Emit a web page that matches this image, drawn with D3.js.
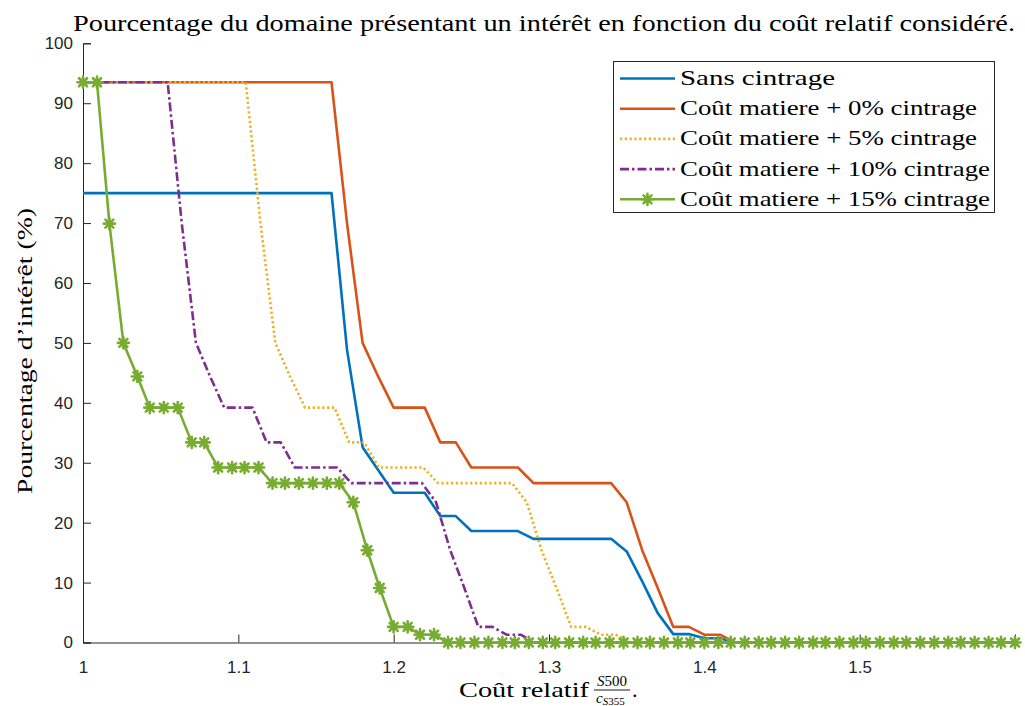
<!DOCTYPE html>
<html>
<head>
<meta charset="utf-8">
<script src="https://cdn.jsdelivr.net/npm/d3@7"></script>
<style>
  body { margin: 0; background: #fff; }
  svg { display: block; }
  .tick text { font-family: "Liberation Sans", Arial, sans-serif; font-size: 17px; fill: #262626; }
  .serif { font-family: "Liberation Serif", "DejaVu Serif", serif; fill: #000; }
</style>
</head>
<body>
<div id="chart"></div>
<script>
// --- data ---
const title = "Pourcentage du domaine présentant un intérêt en fonction du coût relatif considéré.";
const seriesNames = ["Sans cintrage", "Coût matiere + 0% cintrage", "Coût matiere + 5% cintrage",
                     "Coût matiere + 10% cintrage", "Coût matiere + 15% cintrage"];
const xTicks = [1, 1.1, 1.2, 1.3, 1.4, 1.5];
const yTicks = [0, 10, 20, 30, 40, 50, 60, 70, 80, 90, 100];

// breakpoints of each curve (straight segments in between)
const sansX = [1.00, 1.16, 1.17, 1.18, 1.19, 1.20, 1.22, 1.23, 1.24, 1.25, 1.28, 1.29, 1.34, 1.35, 1.36, 1.37, 1.38, 1.39, 1.40, 1.41, 1.42, 1.60];
const sansY = [75, 75, 48.8, 32.6, 28.8, 25, 25, 21.1, 21.1, 18.6, 18.6, 17.3, 17.3, 15.2, 10.2, 4.9, 1.4, 1.4, 0.7, 0.7, 0, 0];

const c0X = [1.00, 1.16, 1.17, 1.18, 1.19, 1.20, 1.22, 1.23, 1.24, 1.25, 1.28, 1.29, 1.34, 1.35, 1.36, 1.37, 1.38, 1.39, 1.40, 1.41, 1.42, 1.60];
const c5X = [1.00, 1.1048, 1.1143, 1.1238, 1.1333, 1.1429, 1.1619, 1.1714, 1.1810, 1.1905, 1.2190, 1.2286, 1.2762, 1.2857, 1.2952, 1.3048, 1.3143, 1.3238, 1.3333, 1.3429, 1.3524, 1.60];
const c10X = [1.00, 1.0545, 1.0636, 1.0727, 1.0818, 1.0909, 1.1091, 1.1182, 1.1273, 1.1364, 1.1636, 1.1727, 1.2182, 1.2273, 1.2364, 1.2455, 1.2545, 1.2636, 1.2727, 1.2818, 1.2909, 1.60];
// the 0/5/10% curves share the same levels, only shifted in x
const cintrY = [93.5, 93.5, 69.9, 50, 44.4, 39.2, 39.2, 33.4, 33.4, 29.2, 29.2, 26.6, 26.6, 23.4, 15.4, 9.1, 2.6, 2.6, 1.3, 1.3, 0, 0];

// 15% curve: every sample is drawn with a marker
const c15X = [1.000, 1.009, 1.017, 1.026, 1.035, 1.043, 1.052, 1.061, 1.070, 1.078,
              1.087, 1.096, 1.104, 1.113, 1.122, 1.130, 1.139, 1.148, 1.157, 1.165,
              1.174, 1.183, 1.191, 1.200, 1.209, 1.217, 1.226, 1.235, 1.243, 1.252,
              1.261, 1.270, 1.278, 1.287, 1.296, 1.304, 1.313, 1.322, 1.330, 1.339,
              1.348, 1.357, 1.365, 1.374, 1.383, 1.391, 1.400, 1.409, 1.417, 1.426,
              1.435, 1.443, 1.452, 1.461, 1.470, 1.478, 1.487, 1.496, 1.504, 1.513,
              1.522, 1.530, 1.539, 1.548, 1.557, 1.565, 1.574, 1.583, 1.591, 1.600];
const c15Y = [93.5, 93.5, 69.9, 50, 44.4, 39.2, 39.2, 39.2, 33.4, 33.4,
              29.2, 29.2, 29.2, 29.2, 26.6, 26.6, 26.6, 26.6, 26.6, 26.6,
              23.4, 15.4, 9.1, 2.6, 2.6, 1.3, 1.3, 0, 0, 0,
              0, 0, 0, 0, 0, 0, 0, 0, 0, 0,
              0, 0, 0, 0, 0, 0, 0, 0, 0, 0,
              0, 0, 0, 0, 0, 0, 0, 0, 0, 0,
              0, 0, 0, 0, 0, 0, 0, 0, 0, 0];

const colors = ["#0072BD", "#D95319", "#EDB120", "#7E2F8E", "#77AC30"];
const dashes = [null, null, "2.2,2.6", "9,3,2.5,3", null];

// --- layout ---
const width = 1025, height = 706;
const margin = {top: 43.3, right: 10, bottom: 63.5, left: 83};

const svg = d3.select("#chart").append("svg")
    .attr("width", width)
    .attr("height", height);

const x = d3.scaleLinear([1, 1.6], [margin.left, width - margin.right]);
const y = d3.scaleLinear([0, 100], [height - margin.bottom, margin.top]);

// axes, ticks inward like matlab
const axX = svg.append("g")
    .attr("transform", `translate(0,${height - margin.bottom})`)
    .call(d3.axisBottom(x).tickValues(xTicks).tickSize(-8).tickPadding(14).tickFormat(d3.format("~g")));
const axY = svg.append("g")
    .attr("transform", `translate(${margin.left},0)`)
    .call(d3.axisLeft(y).tickValues(yTicks).tickSize(-8).tickPadding(10));
[axX, axY].forEach(g => {
  g.select(".domain").attr("stroke", "#262626").attr("stroke-width", 1);
  g.selectAll(".tick line").attr("stroke", "#262626");
});
axX.selectAll(".tick text").attr("dy", "0.95em");
axY.selectAll(".tick text").attr("x", -10);

// curves
const curves = [
  {xs: sansX, ys: sansY},
  {xs: c0X, ys: cintrY},
  {xs: c5X, ys: cintrY},
  {xs: c10X, ys: cintrY},
  {xs: c15X, ys: c15Y}
];
const line = d3.line().x(d => x(d[0])).y(d => y(d[1]));
// matlab '*' marker, drawn thick so it looks like a little cog
const marker = "M-5.6,0L5.6,0M0,-5.6L0,5.6M-4,-4L4,4M-4,4L4,-4";

curves.forEach((c, i) => {
  const pts = d3.zip(c.xs, c.ys);
  svg.append("path")
      .datum(pts)
      .attr("fill", "none")
      .attr("stroke", colors[i])
      .attr("stroke-width", 2.6)
      .attr("stroke-linejoin", "round")
      .attr("stroke-dasharray", dashes[i])
      .attr("d", line);
  if (i === 4) {
    svg.append("g").selectAll("path")
      .data(pts)
      .join("path")
        .attr("transform", d => `translate(${x(d[0])},${y(d[1])})`)
        .attr("d", marker)
        .attr("stroke", colors[i])
        .attr("stroke-width", 2.6)
        .attr("stroke-linecap", "round")
        .attr("fill", "none");
  }
});

// title
svg.append("text").attr("class", "serif")
    .attr("x", 544).attr("y", 30.5)
    .attr("text-anchor", "middle")
    .attr("font-size", 24)
    .attr("textLength", 942).attr("lengthAdjust", "spacingAndGlyphs")
    .text(title);

// y label
svg.append("text").attr("class", "serif")
    .attr("transform", "translate(32,351) rotate(-90)")
    .attr("text-anchor", "middle")
    .attr("font-size", 22)
    .attr("textLength", 286).attr("lengthAdjust", "spacingAndGlyphs")
    .text("Pourcentage d’intérêt (%)");

// x label with the little fraction
const xl = svg.append("g").attr("class", "serif");
xl.append("text").attr("x", 459).attr("y", 696.5).attr("font-size", 22)
    .attr("textLength", 130).attr("lengthAdjust", "spacingAndGlyphs")
    .text("Coût relatif");
const num = xl.append("text").attr("x", 612).attr("y", 685.5).attr("font-size", 15).attr("text-anchor", "middle");
num.append("tspan").attr("font-style", "italic").text("S");
num.append("tspan").text("500");
xl.append("line").attr("x1", 594).attr("x2", 630).attr("y1", 690).attr("y2", 690)
    .attr("stroke", "#000").attr("stroke-width", 0.9);
const den = xl.append("text").attr("x", 596).attr("y", 703).attr("font-size", 15);
den.append("tspan").attr("font-style", "italic").text("c");
den.append("tspan").attr("font-size", 11).attr("dy", 2).attr("font-style", "italic").text("S");
den.append("tspan").attr("font-size", 11).text("355");
xl.append("text").attr("x", 632).attr("y", 696.5).attr("font-size", 22).text(".");

// legend
const leg = svg.append("g");
leg.append("rect")
    .attr("x", 613.5).attr("y", 61.5).attr("width", 381).attr("height", 151)
    .attr("fill", "#fff").attr("stroke", "#262626").attr("stroke-width", 1);
const legW = [155, 297, 297, 310, 310];
seriesNames.forEach((name, i) => {
  const cy = 78.5 + i * 30.2;
  leg.append("line")
      .attr("x1", 620).attr("x2", 675).attr("y1", cy).attr("y2", cy)
      .attr("stroke", colors[i]).attr("stroke-width", 2.6)
      .attr("stroke-dasharray", dashes[i]);
  if (i === 4) {
    leg.append("path").attr("transform", `translate(647.5,${cy})`).attr("d", marker)
        .attr("stroke", colors[i]).attr("stroke-width", 2.6).attr("stroke-linecap", "round")
        .attr("fill", "none");
  }
  leg.append("text").attr("class", "serif")
      .attr("x", 680).attr("y", cy + 6.5)
      .attr("font-size", 22)
      .attr("textLength", legW[i]).attr("lengthAdjust", "spacingAndGlyphs")
      .text(name);
});
</script>
</body>
</html>
